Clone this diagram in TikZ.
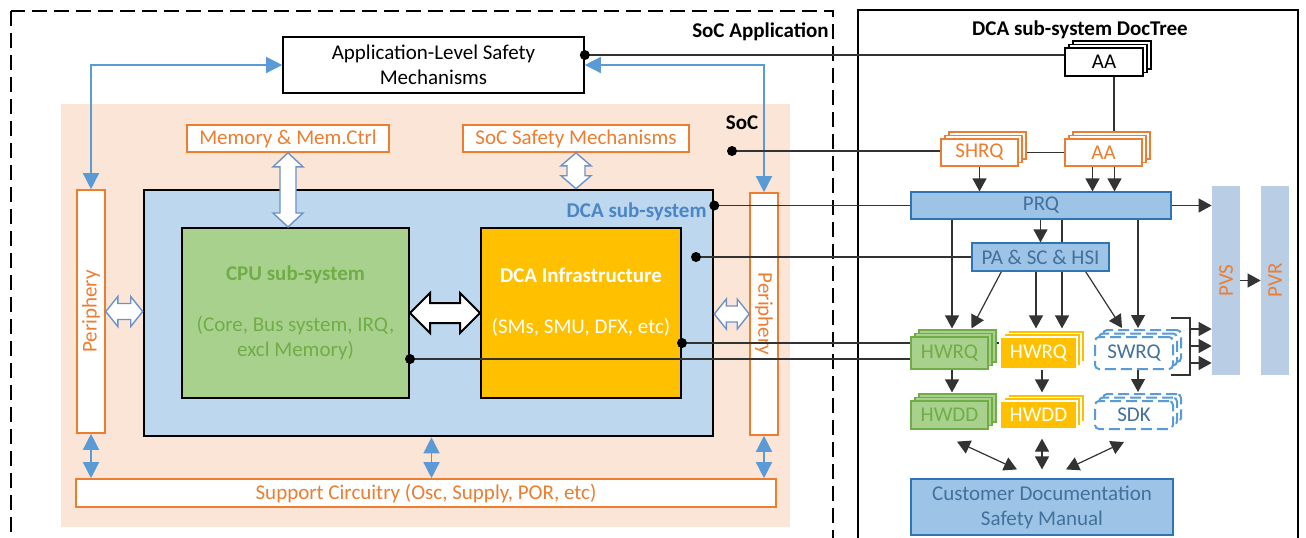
\documentclass[tikz,border=0pt]{standalone}
\usepackage{fontspec}
\setmainfont{Carlito}
\usepackage{graphicx}
\usetikzlibrary{arrows.meta,calc,shadows}
\definecolor{orng}{HTML}{ED7D31}
\definecolor{peach}{HTML}{FBE5D6}
\definecolor{dcablue}{HTML}{BDD7EE}
\definecolor{cpugreen}{HTML}{A9D18E}
\definecolor{cpudark}{HTML}{70AD47}
\definecolor{gold}{HTML}{FFC000}
\definecolor{prqfill}{HTML}{9DC3E6}
\definecolor{prqline}{HTML}{2E75B6}
\definecolor{prqtext}{HTML}{41719C}
\definecolor{pvfill}{RGB}{185,205,229}
\definecolor{linkblue}{HTML}{5B9BD5}
\definecolor{fatblue}{RGB}{110,145,200}
\definecolor{dcatext}{RGB}{74,134,197}
\pgfdeclarelayer{wires}
\pgfdeclarelayer{doctree}
\pgfsetlayers{main,wires,doctree}
\tikzset{
  sz/.style 2 args={minimum width=#1*0.5pt, minimum height=#2*0.5pt},
  title/.style={font=\fontsize{10.5}{12.5}\selectfont\bfseries},
  obox/.style={draw=orng, line width=0.8pt, fill=white, text=orng},
  link/.style={draw=linkblue, line width=0.7pt, {Triangle[length=8pt,width=8pt]}-{Triangle[length=8pt,width=8pt]}},
  wire/.style={draw=black!80, line width=0.6pt},
  arr/.style={wire, -{Triangle[length=6.5pt,width=7pt]}},
  dblarr/.style={wire, {Triangle[length=6.5pt,width=7pt]}-{Triangle[length=6.5pt,width=7pt]}},
  fatline/.style={draw=fatblue, fill=white, line width=0.7pt},
  stack/.style 2 args={fill=#1, draw=#2, line width=0.6pt,
    copy shadow={shadow xshift=4pt, shadow yshift=3.5pt, fill=#1, draw=#2},
    copy shadow={shadow xshift=2pt, shadow yshift=1.75pt, fill=#1, draw=#2}},
  swbox/.style={stack={white}{linkblue}, line width=1pt, dash pattern=on 5.5pt off 2.5pt, rounded corners=2pt, text=prqtext},
  fatv/.style n args={3}{to path={let \p1=(\tikztostart), \p2=(\tikztotarget) in
    (\x1,\y1) -- (\x1+#1,\y1-#3) -- (\x1+#2,\y1-#3) -- (\x1+#2,\y2+#3) -- (\x1+#1,\y2+#3)
    -- (\x1,\y2) -- (\x1-#1,\y2+#3) -- (\x1-#2,\y2+#3) -- (\x1-#2,\y1-#3) -- (\x1-#1,\y1-#3) -- cycle}},
  fath/.style n args={3}{to path={let \p1=(\tikztostart), \p2=(\tikztotarget) in
    (\x1,\y1) -- (\x1+#3,\y1+#1) -- (\x1+#3,\y1+#2) -- (\x2-#3,\y1+#2) -- (\x2-#3,\y1+#1)
    -- (\x2,\y1) -- (\x2-#3,\y1-#1) -- (\x2-#3,\y1-#2) -- (\x1+#3,\y1-#2) -- (\x1+#3,\y1-#1) -- cycle}}
}
\begin{document}
\begin{tikzpicture}[x=0.5pt,y=-0.5pt, every node/.style={font=\fontsize{10.5}{12.5}\selectfont, inner sep=0pt}]
  \useasboundingbox (0,0) rectangle (1306,537);
  \fill[white] (0,0) rectangle (1306,537);

  \draw[line width=0.8pt, dash pattern=on 7.5pt off 3.5pt] (11,11) rectangle (833,560);
  \node[title, anchor=east] (socapp) at (829,32) {SoC Application};
  \node[draw, line width=0.8pt, fill=white, sz={301}{56}, align=center] (app) at (433.5,65) {Application-Level Safety\\Mechanisms};
  \node[fill=peach, sz={729}{423}] (soc) at (425.5,315.5) {};
  \node[title] (soclbl) at (742,123) {SoC};
  \node[obox, sz={202}{27}] (mem) at (288,138.5) {Memory \& Mem.Ctrl};
  \node[obox, sz={226}{27}] (safe) at (576,138.5) {SoC Safety Mechanisms};
  \node[draw, line width=1.3pt, fill=dcablue, sz={569}{246}] (dcasys) at (428.5,313) {};
  \node[title, text=dcatext, anchor=east] (dcalbl) at (707,212) {DCA sub-system};
  \node[draw, line width=1pt, fill=cpugreen, text=cpudark, sz={227}{170}, align=center] (cpu) at (295.5,313)
    {\textbf{CPU sub-system}\\[13pt](Core, Bus system, IRQ,\\excl Memory)};
  \node[draw, line width=1pt, fill=gold, text=white, sz={200}{170}, align=center] (infra) at (581,313)
    {\textbf{DCA Infrastructure}\\[13pt](SMs, SMU, DFX, etc)\\\mbox{}};
  \node[obox, sz={28}{243}] (periphL) at (91,311.5) {\rotatebox{90}{Periphery}};
  \node[obox, sz={28}{242}] (periphR) at (764,314) {\rotatebox{-90}{Periphery}};
  \node[obox, sz={700}{28}] (support) at (426,493) {Support Circuitry (Osc, Supply, POR, etc)};

  \draw[link] (app.west) -| (periphL.north);
  \draw[link] (app.east) -| (periphR.north);
  \draw[link] (periphL.south) -- (periphL.south |- support.north);
  \draw[link] ($(dcasys.south)+(3,0)$) -- ($(dcasys.south |- support.north)+(3,0)$);
  \draw[link] (periphR.south) -- (periphR.south |- support.north);
  \draw[fatline] (mem.south) to[fatv={7.5pt}{4pt}{7pt}] (mem.south |- cpu.north);
  \draw[fatline] (safe.south) to[fatv={7.5pt}{4.5pt}{6.5pt}] (safe.south |- dcasys.north);
  \draw[fatline] (periphL.east) to[fath={7.5pt}{4pt}{6pt}] (periphL.east -| dcasys.west);
  \draw[fatline] (dcasys.east |- periphR.west) to[fath={7.5pt}{4pt}{6pt}] (periphR.west);
  \draw[draw=black, fill=white, line width=1pt] (cpu.east) to[fath={10pt}{5pt}{10pt}] (infra.west);

  \draw[line width=0.8pt] (858,10) rectangle (1298,560);
  \node[title] (doclbl) at (1080,30) {DCA sub-system DocTree};

  \begin{pgfonlayer}{doctree}
    \node[stack={white}{black}, sz={78}{28}] (aa1) at (1104,62) {AA};
    \node[stack={white}{orng}, text=orng, sz={77}{27}] (shrq) at (979.5,152.5) {SHRQ};
    \node[stack={white}{orng}, text=orng, sz={77}{27}] (aa2) at (1103.5,152.5) {AA};
    \node[draw=prqline, fill=prqfill, text=prqtext, line width=0.6pt, sz={260}{27}] (prq) at (1041,205.5) {PRQ};
    \node[draw=prqline, fill=prqfill, text=prqtext, line width=0.6pt, sz={137}{28}] (pa) at (1040.5,257) {PA \& SC \& HSI};
    \node[fill=pvfill, text=orng, sz={28}{189}] (pvs) at (1226,280.5) {\rotatebox{90}{PVS}};
    \node[fill=pvfill, text=orng, sz={28}{189}] (pvr) at (1275,280.5) {\rotatebox{90}{PVR}};
    \node[stack={cpugreen}{cpudark}, text=cpudark, sz={77}{32}] (hwrqg) at (949.5,353) {HWRQ};
    \node[stack={gold}{white}, text=white, sz={77}{32}] (hwrqy) at (1038.5,353) {HWRQ};
    \node[swbox, sz={78}{32}] (swrq) at (1134,353) {SWRQ};
    \node[stack={cpugreen}{cpudark}, text=cpudark, sz={77}{28}] (hwddg) at (949.5,415) {HWDD};
    \node[stack={gold}{white}, text=white, sz={77}{28}] (hwddy) at (1038.5,415) {HWDD};
    \node[swbox, sz={78}{28}] (sdk) at (1134,415) {SDK};
    \node[draw=prqline, fill=prqfill, text=prqtext, line width=0.6pt, sz={262}{56}, align=center] (cust) at (1042,507) {Customer Documentation\\Safety Manual};
  \end{pgfonlayer}

  \begin{pgfonlayer}{wires}
    \path (app.east) ++(0,-10) coordinate (apppin);
    \coordinate (socpin) at (732,151);
    \path (dcasys.east |- prq.west) coordinate (dcasyspin);
    \coordinate (dcapin) at (696,257);
    \path (infra.east |- hwrqy.west) ++(0,-10) coordinate (infrapin);
    \path (cpu.east |- hwrqg.west) ++(0,6) coordinate (cpupin);
    \draw[wire] (apppin) -- (apppin -| aa1.west);
    \draw[wire] (socpin) -- (socpin -| shrq.west);
    \draw[wire] (dcasyspin) -- (prq.west);
    \draw[wire] (dcapin) -- (dcapin -| pa.west);
    \draw[wire] (infrapin) -- (infrapin -| hwrqy.west);
    \draw[wire] (cpupin) -- (cpupin -| hwrqg.west);
    \foreach \p in {apppin,socpin,dcasyspin,dcapin,infrapin,cpupin}
      \fill (\p) circle (2.5pt);

    \draw[wire] (shrq.east) -- (aa2.west);
    \draw[wire] ($(aa1.south)+(10,0)$) -- ($(aa1.south |- aa2.north)+(10,0)$);
    \draw[arr] (shrq.south) -- (shrq.south |- prq.north);
    \draw[arr] ($(aa2.south)+(-11,0)$) -- ($(aa2.south |- prq.north)+(-11,0)$);
    \draw[arr] ($(aa2.south)+(11,0)$) -- ($(aa2.south |- prq.north)+(11,0)$);
    \draw[arr] (prq.east) -- (prq.east -| pvs.west);
    \draw[arr] (pa.north |- prq.south) -- (pa.north);
    \draw[arr] ($(hwrqg.north |- prq.south)+(2.5,0)$) -- ($(hwrqg.north)+(2.5,-8)$);
    \draw[arr] ($(pa.south west)+(30,0)$) -- ($(hwrqg.north)+(22,-8)$);
    \draw[arr] ($(hwrqy.north |- pa.south)+(-2.5,0)$) -- ($(hwrqy.north)+(-2.5,-8)$);
    \draw[arr] ($(hwrqy.north |- prq.south)+(23.5,0)$) -- ($(hwrqy.north)+(23.5,-8)$);
    \draw[arr] ($(swrq.north |- prq.south)+(4,0)$) -- ($(swrq.north)+(4,-8)$);
    \draw[arr] ($(pa.south east)+(-24,0)$) -- ($(swrq.north)+(-12,-8)$);
    \draw[arr] ($(hwrqg.south)+(2.5,0)$) -- ($(hwddg.north)+(2.5,-8)$);
    \draw[arr] ($(hwrqy.south)+(3.5,0)$) -- ($(hwddy.north)+(3.5,-8)$);
    \draw[arr] ($(swrq.south)+(4,0)$) -- ($(sdk.north)+(4,-8)$);
    \draw[wire] ($(swrq.north east)+(-3,-18)$) -- ++(19,0) -- ($(swrq.south east)+(16,5)$) -- ++(-19,0);
    \foreach \dy in {-24,-7,10}
      \draw[arr] ($(swrq.east)+(16,\dy)$) -- ($(swrq.east -| pvs.west)+(0,\dy)$);
    \draw[arr] (pvs.east) -- (pvr.west);
    \draw[dblarr] ($(hwddg.south)+(7.5,12)$) -- ($(cust.north)+(-25,-9)$);
    \draw[dblarr] ($(hwddy.south)+(3.5,9)$) -- ($(cust.north)+(0,-9)$);
    \draw[dblarr] ($(sdk.south)+(-10,12)$) -- ($(cust.north)+(24,-9)$);
  \end{pgfonlayer}
\end{tikzpicture}
\end{document}
